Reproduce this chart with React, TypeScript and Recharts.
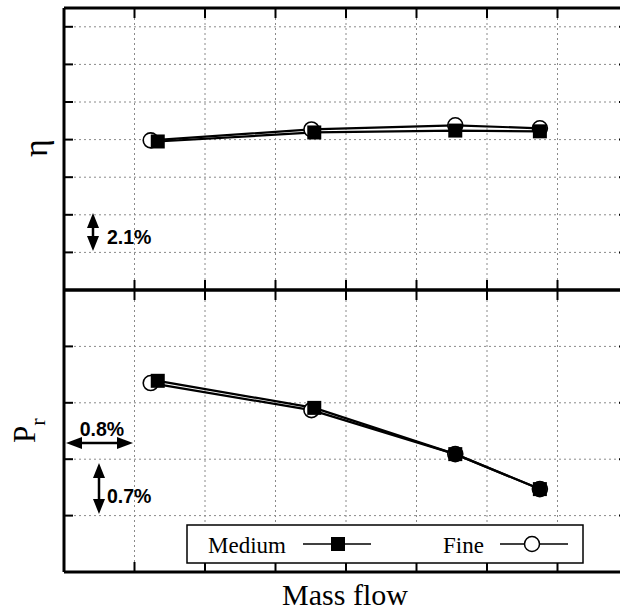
import React from "react";
import { LineChart, Line, XAxis, YAxis, CartesianGrid } from "recharts";

// ---- data ----
const flowFine = [1.23, 3.51, 5.55, 6.75];
const flowMedium = [1.33, 3.55, 5.55, 6.75];
const etaFine = [3.98, 4.27, 4.38, 4.3];
const etaMedium = [3.95, 4.19, 4.24, 4.22];
const prFine = [3.35, 2.87, 2.09, 1.47];
const prMedium = [3.39, 2.91, 2.09, 1.47];

const xTicks = [1, 2, 3, 4, 5, 6, 7];
const etaTicks = [1, 2, 3, 4, 5, 6, 7];
const prTicks = [1, 2, 3, 4];
const xDomain: [number, number] = [0, 8];
const etaDomain: [number, number] = [0, 7.5];
const prDomain: [number, number] = [0, 5];

const seriesNames = ["Medium", "Fine"];
const axisTitles = { x: "Mass flow", top: "η", bottomMain: "P", bottomSub: "r" };
const notes = { eta: "2.1%", prH: "0.8%", prV: "0.7%" };

const zip = (xs: number[], ys: number[]) => xs.map((x, i) => ({ x, y: ys[i] }));

const EmptyTick = () => <g />;

const SquareDot = (props: any) => {
  const { cx, cy, index } = props;
  if (cx == null || cy == null) return <g key={index} />;
  return <rect key={index} x={cx - 7} y={cy - 7} width={14} height={14} fill="#000" />;
};
const CircleDot = (props: any) => {
  const { cx, cy, index } = props;
  if (cx == null || cy == null) return <g key={index} />;
  return <circle key={index} cx={cx} cy={cy} r={7.5} fill="#fff" stroke="#000" strokeWidth={1.6} />;
};

const axisLine = { stroke: "#000", strokeWidth: 3 };
const tickLine = { stroke: "#000", strokeWidth: 2 };

function Panel(props: {
  top: number;
  height: number;
  marginTop: number;
  marginBottom: number;
  fine: number[];
  medium: number[];
  yTicks: number[];
  yDomain: [number, number];
}) {
  const { top, height, marginTop, marginBottom, fine, medium, yTicks, yDomain } = props;
  return (
    <div style={{ position: "absolute", left: 0, top }}>
      <LineChart
        width={640}
        height={height}
        margin={{ top: marginTop, right: 12, bottom: marginBottom, left: 64 }}
      >
        <CartesianGrid
          xAxisId="b"
          yAxisId="l"
          stroke="#8a8a8a"
          strokeDasharray="2 3"
          strokeWidth={1}
        />
        <XAxis
          xAxisId="b"
          type="number"
          dataKey="x"
          domain={xDomain}
          ticks={xTicks}
          allowDataOverflow
          orientation="bottom"
          mirror
          tickSize={10}
          axisLine={axisLine}
          tickLine={tickLine}
          tick={EmptyTick}
        />
        <XAxis
          xAxisId="t"
          type="number"
          dataKey="x"
          domain={xDomain}
          ticks={xTicks}
          allowDataOverflow
          orientation="top"
          mirror
          tickSize={10}
          axisLine={axisLine}
          tickLine={tickLine}
          tick={EmptyTick}
        />
        <YAxis
          yAxisId="l"
          type="number"
          domain={yDomain}
          ticks={yTicks}
          allowDataOverflow
          orientation="left"
          mirror
          tickSize={9}
          axisLine={axisLine}
          tickLine={tickLine}
          tick={EmptyTick}
        />
        <YAxis
          yAxisId="r"
          type="number"
          domain={yDomain}
          ticks={yTicks}
          allowDataOverflow
          orientation="right"
          mirror
          tickSize={9}
          axisLine={axisLine}
          tickLine={tickLine}
          tick={EmptyTick}
        />
        <Line
          xAxisId="b"
          yAxisId="l"
          name={seriesNames[1]}
          data={zip(flowFine, fine)}
          dataKey="y"
          stroke="#000"
          strokeWidth={2.2}
          dot={CircleDot}
          activeDot={false}
          isAnimationActive={false}
        />
        <Line
          xAxisId="b"
          yAxisId="l"
          name={seriesNames[0]}
          data={zip(flowMedium, medium)}
          dataKey="y"
          stroke="#000"
          strokeWidth={2.2}
          dot={SquareDot}
          activeDot={false}
          isAnimationActive={false}
        />
      </LineChart>
    </div>
  );
}

function VArrow({ x, y1, y2 }: { x: number; y1: number; y2: number }) {
  return (
    <g fill="#000" stroke="none">
      <line x1={x} y1={y1 + 10} x2={x} y2={y2 - 10} stroke="#000" strokeWidth={2.5} />
      <polygon points={`${x},${y1} ${x - 6},${y1 + 15} ${x + 6},${y1 + 15}`} />
      <polygon points={`${x},${y2} ${x - 6},${y2 - 15} ${x + 6},${y2 - 15}`} />
    </g>
  );
}
function HArrow({ y, x1, x2 }: { y: number; x1: number; x2: number }) {
  return (
    <g fill="#000" stroke="none">
      <line x1={x1 + 10} y1={y} x2={x2 - 10} y2={y} stroke="#000" strokeWidth={2.5} />
      <polygon points={`${x1},${y} ${x1 + 16},${y - 6} ${x1 + 16},${y + 6}`} />
      <polygon points={`${x2},${y} ${x2 - 16},${y - 6} ${x2 - 16},${y + 6}`} />
    </g>
  );
}

export default function App() {
  const serif = "'Liberation Serif', 'Times New Roman', serif";
  const sans = "'Liberation Sans', Arial, sans-serif";
  return (
    <div
      style={{
        position: "fixed",
        left: 0,
        top: 0,
        width: 620,
        height: 612,
        overflow: "hidden",
        background: "#fff",
      }}
    >
      <Panel top={0} height={300} marginTop={8} marginBottom={10} fine={etaFine} medium={etaMedium} yTicks={etaTicks} yDomain={etaDomain} />
      <Panel top={280} height={302} marginTop={10} marginBottom={10} fine={prFine} medium={prMedium} yTicks={prTicks} yDomain={prDomain} />
      <svg
        width={620}
        height={612}
        style={{ position: "absolute", left: 0, top: 0, pointerEvents: "none" }}
      >
        {/* axis titles */}
        <text transform="translate(47,157) rotate(-90)" fontFamily={serif} fontSize={34} fill="#000">
          {axisTitles.top}
        </text>
        <text transform="translate(35,443) rotate(-90)" fontFamily={serif} fontSize={31} fill="#000">
          {axisTitles.bottomMain}
          <tspan dy={10} fontSize={22}>{axisTitles.bottomSub}</tspan>
        </text>
        <text x={345} y={605} textAnchor="middle" fontFamily={serif} fontSize={30} fill="#000">
          {axisTitles.x}
        </text>

        {/* annotations */}
        <VArrow x={93} y1={213} y2={251} />
        <text x={107} y={244} fontFamily={sans} fontWeight="bold" fontSize={19.5} fill="#000">{notes.eta}</text>
        <HArrow y={443} x1={66} x2={133} />
        <text x={102} y={436} textAnchor="middle" fontFamily={sans} fontWeight="bold" fontSize={19.5} fill="#000">{notes.prH}</text>
        <VArrow x={99} y1={463} y2={514} />
        <text x={107} y={503} fontFamily={sans} fontWeight="bold" fontSize={19.5} fill="#000">{notes.prV}</text>

        {/* legend */}
        <rect x={187} y={525} width={396} height={38} fill="#fff" stroke="#000" strokeWidth={1.5} />
        <text x={208} y={553} fontFamily={serif} fontSize={23} fill="#000">{seriesNames[0]}</text>
        <line x1={303} y1={544} x2={371} y2={544} stroke="#000" strokeWidth={1.5} />
        <rect x={331} y={537} width={14} height={14} fill="#000" />
        <text x={443} y={553} fontFamily={serif} fontSize={23} fill="#000">{seriesNames[1]}</text>
        <line x1={500} y1={544} x2={568} y2={544} stroke="#000" strokeWidth={1.5} />
        <circle cx={532} cy={544} r={7.5} fill="#fff" stroke="#000" strokeWidth={1.5} />
      </svg>
    </div>
  );
}
